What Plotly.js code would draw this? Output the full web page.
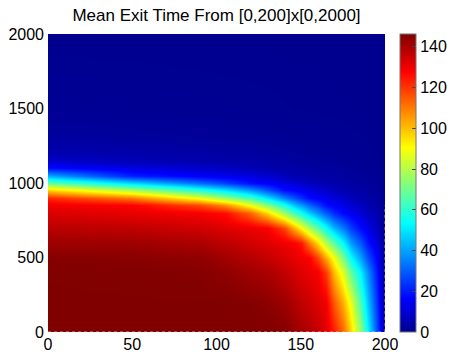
<!DOCTYPE html>
<html>
<head>
<meta charset="utf-8">
<script src="https://cdn.plot.ly/plotly-3.0.1.min.js"></script>
<style>
  html, body { margin: 0; padding: 0; background: #fff; }
  #chart { width: 450px; height: 353px; }
</style>
</head>
<body>
<div id="chart"></div>
<script>
// Grid coordinates of the sampled mean exit time field
const xs = [0, 50, 90, 105, 120, 130, 140, 145, 150, 155, 160, 165, 170, 175, 180, 185, 190, 195, 200];
const ys = [0, 200, 400, 500, 600, 700, 800, 850, 900, 950, 1000, 1050, 1100, 1150, 1200, 1300, 1500, 2000];

// Mean exit time profiles along y, one per x column
const col0   = [146.3, 146.3, 146.2, 145.5, 142, 138, 133, 130, 122, 97, 68, 42, 18, 9, 5, 2.5, 0.8, 0];
const col50  = [146.3, 146.3, 146, 145, 142, 137, 131, 128, 110, 78, 48, 21, 12, 6, 4, 2, 0.6, 0];
const col90  = [146.3, 146.3, 145.5, 144, 140, 134.5, 129, 117, 88, 58, 32, 15.5, 9, 4.5, 3.3, 1.5, 0.45, 0];
const col105 = [146.3, 146.2, 144, 141.5, 137.5, 132.6, 126.2, 107, 76, 49.5, 25.6, 14, 7.5, 4, 2.8, 1.3, 0.4, 0];
const col120 = [146.3, 145.5, 141.5, 138.7, 134.6, 130.5, 113.6, 88.9, 63.5, 38.6, 18, 11.8, 5.6, 3.8, 2.6, 1.2, 0.35, 0];
const col130 = [146.3, 144.5, 140, 136.3, 132.6, 128.9, 97.2, 73, 50.3, 28.5, 15.4, 9.5, 4.5, 3.2, 2.2, 1, 0.3, 0];
const col140 = [145.5, 142, 136.8, 133.5, 130.3, 118.2, 76.3, 56.9, 36, 18, 12.3, 6.7, 3.8, 2.6, 1.8, 0.8, 0.25, 0];
const col145 = [143.5, 140, 134.5, 131.7, 129, 105.8, 65.8, 47.4, 29.5, 16.3, 10.6, 5, 3.3, 2.3, 1.6, 0.75, 0.22, 0];
const col150 = [141, 136.8, 132.3, 130, 125, 91, 56, 38.8, 23.4, 14.4, 8.9, 4.4, 3, 2, 1.4, 0.7, 0.2, 0];
const col155 = [139.5, 135, 130.8, 128.7, 110.7, 77.9, 46.3, 31.3, 17.8, 12.5, 7.1, 4, 2.7, 1.8, 1.2, 0.6, 0.18, 0];
const col160 = [136, 132.4, 128.7, 118, 95.3, 65.9, 37.4, 24.4, 15.5, 10.4, 5.3, 3.6, 2.4, 1.6, 1.1, 0.55, 0.16, 0];
const col165 = [132, 129.6, 119, 103.3, 79.4, 54.5, 29.5, 18, 13.2, 8.4, 4.6, 3.2, 2.1, 1.4, 1, 0.5, 0.14, 0];
const col170 = [124, 114.7, 99.9, 88.5, 66.6, 42.7, 22.3, 15.5, 10.9, 6.4, 4.2, 2.9, 1.9, 1.3, 0.9, 0.45, 0.12, 0];
const col175 = [113, 101.9, 85.5, 71.2, 53.1, 34.2, 17.1, 12.9, 8.6, 4.8, 3.3, 2.4, 1.6, 1.1, 0.75, 0.38, 0.1, 0];
const col180 = [96, 86.5, 66.6, 53.5, 38.9, 24.9, 14.1, 10.1, 6.2, 4, 2.8, 2, 1.3, 0.9, 0.6, 0.3, 0.08, 0];
const col185 = [76, 65.1, 52.6, 40.8, 29.3, 18, 10.8, 7.2, 4.6, 3.3, 2.3, 1.6, 1, 0.7, 0.5, 0.25, 0.06, 0];
const col190 = [52, 44, 36, 27.4, 18.9, 12.7, 6.8, 4.6, 3.6, 2.6, 1.8, 1.2, 0.8, 0.55, 0.4, 0.2, 0.05, 0];
const col195 = [27, 23, 19, 15.8, 11.3, 6.8, 4.1, 3.3, 2.5, 1.8, 1.2, 0.8, 0.5, 0.35, 0.25, 0.12, 0.03, 0];
const col200 = [0, 0, 0, 0, 0, 0, 0, 0, 0, 0, 0, 0, 0, 0, 0, 0, 0, 0];

const xTicks = [0, 50, 100, 150, 200];
const yTicks = [0, 500, 1000, 1500, 2000];
const cbTicks = [0, 20, 40, 60, 80, 100, 120, 140];

const columns = [col0, col50, col90, col105, col120, col130, col140, col145, col150,
                 col155, col160, col165, col170, col175, col180, col185, col190,
                 col195, col200];

// heatmap wants z[row][col] with rows along y
const z = ys.map((_, j) => columns.map(c => c[j]));

// MATLAB-style jet colormap
const jet = [
  [0.0,    'rgb(0,0,143)'],
  [0.1111, 'rgb(0,0,255)'],
  [0.3651, 'rgb(0,255,255)'],
  [0.6190, 'rgb(255,255,0)'],
  [0.8730, 'rgb(255,0,0)'],
  [1.0,    'rgb(128,0,0)']
];

const font = { family: '"Liberation Sans", Arial, Helvetica, sans-serif', color: '#000' };

const trace = {
  type: 'heatmap',
  x: xs,
  y: ys,
  z: z,
  zsmooth: 'best',
  colorscale: jet,
  zmin: 0,
  showscale: true,
  colorbar: {
    x: 1.0445,
    xanchor: 'left',
    y: 0.5,
    yanchor: 'middle',
    len: 1,
    lenmode: 'fraction',
    thickness: 16,
    thicknessmode: 'pixels',
    outlinewidth: 1,
    outlinecolor: '#777',
    ticks: 'inside',
    ticklen: 4,
    tickcolor: '#444',
    tickvals: cbTicks,
    tickfont: Object.assign({ size: 16 }, font),
    xpad: 0,
    ypad: 0
  },
  hoverinfo: 'skip'
};

const layout = {
  width: 450,
  height: 353,
  margin: { l: 48, r: 65, t: 34, b: 21, pad: 0, autoexpand: false },
  paper_bgcolor: '#fff',
  plot_bgcolor: '#fff',
  font: font,
  title: {
    text: 'Mean Exit Time From [0,200]x[0,2000]',
    xref: 'paper',
    x: 0.5,
    xanchor: 'center',
    yref: 'container',
    y: 0.958,
    yanchor: 'middle',
    font: Object.assign({ size: 17 }, font)
  },
  xaxis: {
    range: [0, 200],
    tickvals: xTicks,
    ticks: '',
    ticklabelstandoff: 1,
    showgrid: false,
    zeroline: false,
    showline: false,
    tickfont: Object.assign({ size: 16 }, font),
    automargin: false
  },
  yaxis: {
    range: [0, 2000],
    tickvals: yTicks,
    ticks: '',
    ticklabelstandoff: 3,
    showgrid: false,
    zeroline: false,
    showline: false,
    tickfont: Object.assign({ size: 16 }, font),
    automargin: false
  },
  shapes: [
    { type: 'line', xref: 'x', yref: 'y', x0: 0, x1: 200, y0: 0, y1: 0,
      line: { color: 'rgba(200,200,200,0.8)', width: 1, dash: 'dot' } },
    { type: 'line', xref: 'x', yref: 'y', x0: 200, x1: 200, y0: 0, y1: 850,
      line: { color: 'rgba(180,180,180,0.8)', width: 1, dash: 'dot' } }
  ]
};

Plotly.newPlot('chart', [trace], layout, { displayModeBar: false, staticPlot: true });
</script>
</body>
</html>
